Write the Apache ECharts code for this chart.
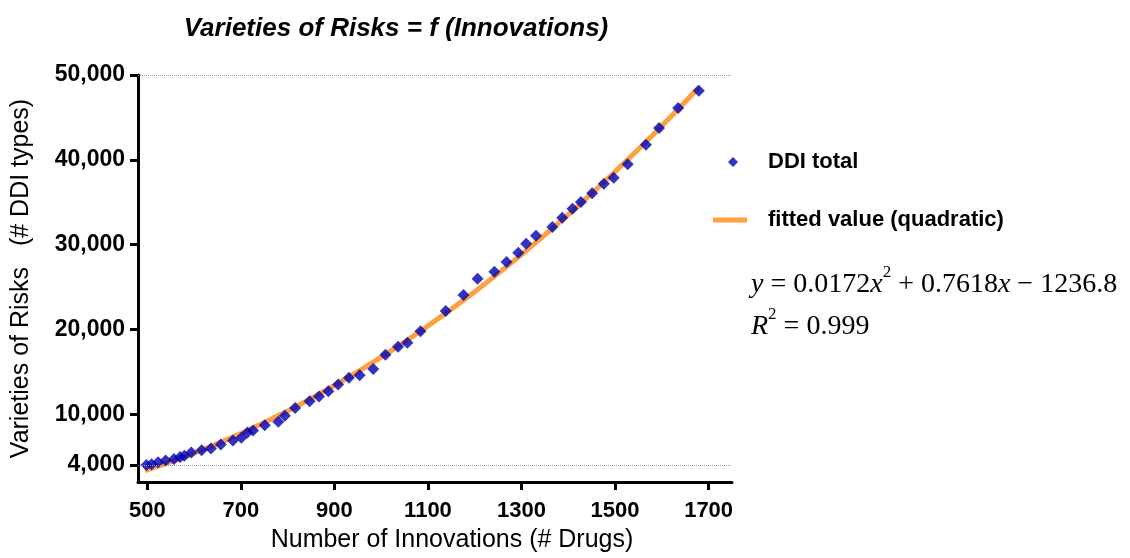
<!DOCTYPE html>
<html>
<head>
<meta charset="utf-8">
<script src="https://cdn.jsdelivr.net/npm/echarts@6/dist/echarts.min.js"></script>
<style>
  html, body { margin: 0; padding: 0; background: #fff; }
  #main { width: 1130px; height: 558px; }
</style>
</head>
<body>
<div id="main"></div>
<script>
// 药物数量 (# Drugs) 与 DDI 类型数
const drugs = [498, 509, 523, 539, 557, 570, 579, 594, 616, 636, 657, 683, 701, 714, 726, 751,
  780, 794, 816, 847, 867, 887, 908, 931, 954, 983, 1009, 1036, 1056, 1084, 1138, 1176, 1206,
  1242, 1268, 1293, 1310, 1331, 1366, 1387, 1409, 1427, 1451, 1476, 1497, 1527, 1566, 1594,
  1635, 1679];
const ddiTotal = [4000, 4080, 4320, 4550, 4700, 4940, 5100, 5490, 5730, 5960, 6430, 6900, 7210,
  7840, 8080, 8700, 9100, 9800, 10740, 11520, 12070, 12700, 13500, 14300, 14580, 15330, 17010,
  17950, 18430, 19770, 22180, 24060, 25970, 26800, 27940, 29030, 30090, 31030, 32080, 33150,
  34220, 35030, 36050, 37180, 37890, 39470, 41770, 43760, 46110, 48150];

// 拟合曲线 (quadratic)
const fitX = [495, 600, 700, 800, 900, 1000, 1100, 1200, 1300, 1400, 1500, 1600, 1680];
const fitY = [3350, 5410, 7720, 10380, 13380, 16720, 20410, 24440, 28820, 33540, 38600, 44010, 48590];

// 坐标轴刻度
const xTicks = [500, 700, 900, 1100, 1300, 1500, 1700];
const yTicks = [4000, 10000, 20000, 30000, 40000, 50000];
const refLines = [4000, 50000];

const chart = echarts.init(document.getElementById('main'));

const font = 'Liberation Sans, Arial, sans-serif';
const legendText = {
  fontFamily: font,
  fontSize: 22,
  fontWeight: 'bold',
  color: '#000'
};

const option = {
  animation: false,
  title: [
    {
      text: 'Varieties of Risks = f (Innovations)',
      left: 391,
      top: 11,
      textAlign: 'center',
      textStyle: {
        fontFamily: font,
        fontSize: 26,
        fontWeight: 'bold',
        fontStyle: 'italic',
        color: '#000'
      }
    },
    {
      // 拟合方程
      text: '{i|y} = 0.0172{i|x}{s|2} + 0.7618{i|x} \u2212 1236.8\n{i|R}{s|2} = 0.999',
      left: 751,
      top: 264,
      padding: 0,
      textStyle: {
        fontFamily: 'Liberation Serif, Times New Roman, serif',
        fontSize: 28,
        fontWeight: 'normal',
        color: '#000',
        lineHeight: 42,
        rich: {
          i: { fontStyle: 'italic', fontSize: 28, fontFamily: 'Liberation Serif, serif' },
          s: { fontSize: 17, verticalAlign: 'top', lineHeight: 30, fontFamily: 'Liberation Serif, serif' }
        }
      }
    }
  ],
  legend: [
    {
      left: 728,
      top: 151,
      padding: 0,
      itemWidth: 10,
      itemHeight: 10,
      data: [{ name: 'DDI total', icon: 'diamond' }],
      textStyle: Object.assign({ padding: [0, 0, 0, 25] }, legendText)
    },
    {
      left: 713,
      top: 209,
      padding: 0,
      itemWidth: 34,
      itemHeight: 5,
      data: [{ name: 'fitted value (quadratic)', icon: 'rect' }],
      textStyle: Object.assign({ padding: [0, 0, 0, 16] }, legendText)
    }
  ],
  grid: {
    left: 138,
    right: 398,
    top: 75,
    bottom: 74
  },
  xAxis: {
    type: 'value',
    min: 480,
    max: 1750,
    name: 'Number of Innovations (# Drugs)',
    nameLocation: 'middle',
    nameGap: 46,
    nameTextStyle: {
      fontFamily: font,
      fontSize: 25,
      color: '#000',
      padding: [0, 0, 0, 34]
    },
    splitLine: { show: false },
    axisLine: { onZero: false, lineStyle: { color: '#000', width: 3 } },
    axisTick: { customValues: xTicks, length: 8, lineStyle: { color: '#000', width: 3 } },
    axisLabel: {
      customValues: xTicks,
      margin: 18,
      fontFamily: font,
      fontSize: 22,
      fontWeight: 'bold',
      color: '#000',
      formatter: v => String(v)
    }
  },
  yAxis: {
    type: 'value',
    min: 2000,
    max: 50000,
    name: 'Varieties of Risks   (# DDI types)',
    nameLocation: 'middle',
    nameGap: 104,
    nameTextStyle: {
      fontFamily: font,
      fontSize: 25,
      color: '#000'
    },
    splitLine: { show: false },
    axisLine: { show: true, lineStyle: { color: '#000', width: 3 } },
    axisTick: { show: true, customValues: yTicks, length: 8, lineStyle: { color: '#000', width: 3 } },
    axisLabel: {
      customValues: yTicks,
      margin: 13,
      fontFamily: font,
      fontSize: 23,
      fontWeight: 'bold',
      color: '#000',
      formatter: v => v.toLocaleString('en-US')
    }
  },
  series: [
    {
      name: 'fitted value (quadratic)',
      type: 'line',
      smooth: true,
      symbol: 'none',
      z: 2,
      color: '#FFA040',
      lineStyle: { color: '#FFA040', width: 5 },
      data: fitX.map((x, i) => [x, fitY[i]])
    },
    {
      name: 'DDI total',
      type: 'scatter',
      symbol: 'diamond',
      symbolSize: 12,
      z: 3,
      color: '#0000B4',
      itemStyle: { color: '#0000B4' },
      data: drugs.map((x, i) => [x, ddiTotal[i]]),
      markLine: {
        silent: true,
        symbol: ['none', 'none'],
        label: { show: false },
        lineStyle: { color: '#999', type: 'dotted', width: 1 },
        data: refLines.map(v => ({ yAxis: v }))
      }
    }
  ]
};

option && chart.setOption(option);
</script>
</body>
</html>
